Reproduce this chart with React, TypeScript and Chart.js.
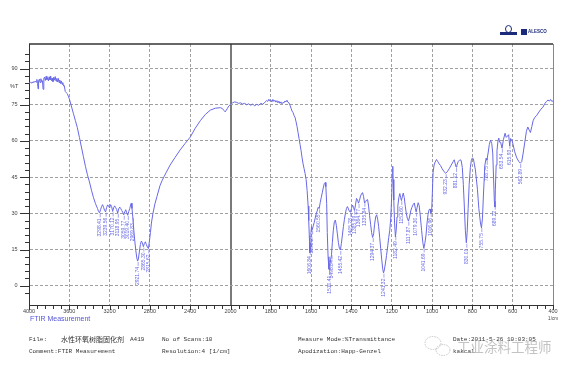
import React, { useEffect, useRef } from 'react';
import { Chart, registerables } from 'chart.js';

Chart.register(...registerables);

// ---- data (wavenumber in cm-1, descending) ----
const wavenumbers: number[] = [
  4000, 3985, 3970, 3960, 3950, 3940, 3930, 3922, 3915, 3910, 3905, 3897, 3890, 3882, 3875, 3867, 3860, 3853, 3846, 3838,
  3830, 3822, 3815, 3807, 3800, 3792, 3785, 3777, 3770, 3762, 3755, 3747, 3740, 3732, 3725, 3717, 3710, 3702, 3695, 3687,
  3680, 3672, 3665, 3657, 3650, 3640, 3630, 3620, 3610, 3600, 3580, 3560, 3540, 3520, 3500, 3480, 3460, 3440, 3420, 3400,
  3380, 3360, 3340, 3320, 3310, 3300, 3290, 3280, 3270, 3260, 3250, 3240, 3230, 3220, 3210, 3200, 3190, 3180, 3170, 3160,
  3150, 3140, 3130, 3120, 3110, 3100, 3090, 3080, 3070, 3060, 3050, 3040, 3030, 3020, 3010, 3000, 2990, 2985, 2978, 2970,
  2960, 2950, 2940, 2930, 2922, 2915, 2905, 2895, 2885, 2875, 2865, 2855, 2845, 2835, 2825, 2815, 2805, 2795, 2785, 2770,
  2750, 2730, 2700, 2680, 2660, 2640, 2600, 2550, 2500, 2450, 2400, 2350, 2300, 2250, 2200, 2150, 2100, 2080, 2065, 2055,
  2045, 2030, 2015, 2000, 1990, 1980, 1970, 1960, 1950, 1940, 1930, 1920, 1910, 1900, 1890, 1880, 1870, 1860, 1850, 1840,
  1830, 1820, 1815, 1810, 1805, 1800, 1795, 1790, 1785, 1780, 1775, 1770, 1765, 1760, 1755, 1750, 1745, 1740, 1735, 1730,
  1725, 1720, 1715, 1710, 1705, 1700, 1695, 1690, 1685, 1680, 1675, 1670, 1665, 1660, 1655, 1650, 1645, 1640, 1635, 1630,
  1625, 1620, 1615, 1612, 1608, 1606.5, 1604, 1601, 1598, 1595, 1590, 1585, 1580, 1575, 1570, 1565, 1560, 1555, 1550, 1545,
  1540, 1535, 1530, 1527, 1523, 1520, 1516, 1512, 1510, 1507, 1503, 1499, 1495, 1490, 1485, 1480, 1475, 1470, 1465, 1460,
  1455, 1450, 1445, 1440, 1435, 1430, 1425, 1420, 1415, 1410, 1405, 1400, 1395, 1390, 1385, 1380, 1375, 1370, 1365, 1360,
  1355, 1350, 1345, 1340, 1335, 1330, 1325, 1320, 1315, 1310, 1305, 1300, 1295, 1290, 1285, 1280, 1275, 1270, 1265, 1260,
  1255, 1250, 1245, 1241, 1237, 1232, 1226, 1220, 1215, 1210, 1205, 1200, 1197, 1195, 1193, 1190, 1186, 1182, 1178, 1174,
  1170, 1165, 1160, 1156, 1152, 1148, 1143, 1138, 1133, 1128, 1123, 1117, 1112, 1106, 1100, 1094, 1088, 1083, 1079, 1074,
  1069, 1064, 1058, 1052, 1046, 1041, 1036, 1030, 1025, 1020, 1015, 1010, 1006, 1002, 998, 995, 990, 985, 978, 972,
  965, 958, 950, 940, 932, 925, 915, 905, 895, 890, 885, 881, 877, 870, 862, 856, 850, 845, 840, 835,
  830, 826, 821, 816, 810, 805, 800, 795, 785, 775, 768, 760, 755, 750, 745, 738, 732, 728, 722, 716,
  710, 704, 699, 695, 691, 688, 686, 682, 678, 673, 669, 665, 660, 653, 646, 638, 632, 626, 620, 615,
  610, 604, 598, 590, 580, 570, 562, 555, 548, 540, 532, 525, 518, 512, 505, 498, 490, 480, 470, 460,
  450, 440, 432, 425, 418, 412, 406, 400,
];

const transmittance: number[] = [
  84.0, 84.3, 84.0, 84.6, 84.2, 84.8, 84.4, 85.5, 83.8, 81.6, 84.9, 85.6, 84.2, 85.8, 84.6, 85.0, 81.4, 85.9, 86.5, 85.1,
  86.8, 85.4, 86.2, 84.9, 86.6, 85.3, 86.9, 85.0, 86.1, 84.6, 86.4, 85.2, 86.7, 84.8, 85.9, 84.5, 86.0, 84.2, 85.3, 83.8,
  84.9, 83.5, 84.2, 82.8, 83.0, 80.5, 80.0, 79.6, 78.6, 77.5, 74.5, 71.5, 68.5, 65.5, 61.5, 57.5, 53.5, 49.5, 46.0, 43.0,
  39.6, 36.5, 34.0, 32.0, 30.8, 30.2, 31.5, 32.8, 33.6, 32.5, 31.2, 30.6, 32.4, 33.5, 33.0, 32.2, 33.6, 32.8, 30.8, 32.3,
  33.1, 32.4, 31.6, 30.1, 31.8, 32.6, 32.0, 31.2, 30.5, 29.4, 30.6, 31.5, 30.2, 29.2, 30.8, 32.0, 33.8, 34.2, 32.0, 28.5,
  23.0, 18.5, 14.5, 11.5, 10.2, 11.0, 14.0, 17.0, 18.5, 17.8, 16.2, 17.5, 18.2, 17.0, 16.0, 15.4, 18.5, 22.0, 26.0, 30.0,
  34.0, 37.0, 41.5, 43.5, 45.2, 46.8, 50.0, 53.2, 56.3, 59.0, 61.6, 65.3, 68.4, 71.0, 72.8, 73.6, 73.8, 73.4, 72.6, 72.1,
  72.5, 73.6, 74.6, 75.2, 75.8, 76.2, 76.0, 75.6, 75.8, 75.3, 75.6, 75.0, 75.4, 74.8, 75.3, 74.6, 75.2, 74.8, 75.6, 75.2,
  76.0, 76.8, 76.4, 77.3, 76.6, 77.0, 76.2, 77.2, 76.4, 76.9, 76.1, 76.7, 75.8, 76.5, 75.6, 76.2, 75.4, 76.0, 75.8, 76.6,
  76.2, 76.9, 76.0, 75.8, 74.8, 73.6, 72.4, 71.8, 70.6, 69.8, 68.0, 66.0, 63.5, 61.0, 58.5, 56.0, 53.0, 50.5, 48.5, 46.5,
  44.0, 39.5, 33.0, 27.0, 18.0, 13.8, 16.0, 22.0, 24.5, 23.2, 24.6, 26.2, 28.0, 29.8, 31.0, 32.5, 32.0, 34.5, 36.5, 38.5,
  40.5, 42.3, 42.8, 41.0, 34.0, 22.0, 12.0, 7.0, 6.5, 9.0, 11.0, 12.8, 17.8, 23.0, 26.5, 27.2, 25.0, 21.5, 18.0, 15.5,
  14.8, 17.5, 21.0, 24.5, 27.5, 30.0, 32.0, 32.8, 31.8, 30.8, 30.5, 32.0, 33.4, 32.5, 31.2, 33.5, 36.2, 35.6, 34.2, 35.4,
  37.2, 38.0, 38.6, 37.0, 34.3, 34.8, 35.5, 35.7, 33.0, 29.0, 25.5, 22.0, 20.0, 21.5, 25.5, 28.5, 29.4, 27.5, 24.5, 20.0,
  15.5, 11.0, 7.0, 5.3, 6.5, 9.0, 12.5, 16.5, 20.0, 23.0, 28.0, 38.0, 47.0, 49.5, 44.0, 35.5, 26.0, 20.2, 23.0, 28.5,
  33.0, 36.5, 38.2, 36.5, 35.3, 36.8, 38.4, 36.5, 33.0, 30.0, 28.0, 26.8, 28.5, 31.0, 32.5, 33.6, 34.3, 32.0, 30.6, 32.5,
  34.4, 33.2, 28.5, 23.0, 18.0, 15.5, 17.5, 21.0, 26.0, 29.5, 31.5, 31.8, 30.2, 31.0, 40.0, 47.0, 50.0, 51.2, 52.3, 51.5,
  50.5, 49.8, 48.5, 47.2, 46.6, 47.2, 48.5, 50.0, 51.5, 52.2, 50.5, 49.2, 50.0, 51.5, 52.2, 52.0, 49.0, 42.0, 33.0, 23.0,
  17.8, 22.0, 32.0, 42.0, 49.0, 52.0, 53.0, 52.5, 48.0, 40.0, 32.0, 26.0, 24.0, 28.0, 38.0, 50.0, 52.8, 52.0, 55.0, 58.5,
  60.3, 59.0, 55.0, 45.0, 35.0, 32.6, 40.0, 50.0, 56.0, 60.0, 61.2, 59.5, 59.5, 57.0, 60.5, 63.2, 61.5, 62.0, 62.6, 58.0,
  61.0, 60.5, 58.5, 55.5, 53.0, 51.5, 50.8, 51.5, 55.0, 59.5, 64.0, 65.8, 64.5, 63.5, 66.0, 68.6, 69.8, 70.7, 72.0, 73.2,
  74.0, 75.6, 76.4, 77.0, 76.5, 77.2, 76.4, 76.6,
];

// peak-pick annotations (cm-1)
const peakLabels: number[] = [
  3298.41, 3239.56, 3170.12, 3118.95, 3059.77, 3019.40, 2969.83, 2921.74, 2865.30, 2815.62,
  1606.84, 1595.27, 1560.55, 1510.41, 1498.84, 1455.42, 1405.28, 1385.99, 1364.77, 1335.84,
  1294.37, 1241.32, 1182.49, 1152.60, 1117.87, 1079.30, 1041.69, 1006.96,
  932.23, 881.12, 830.01, 755.75, 728.75, 689.22, 653.54, 615.93, 562.89,
];

const xMajorLabels: number[] = [4000, 3600, 3200, 2800, 2400, 2000, 1800, 1600, 1400, 1200, 1000, 800, 600, 400];
const yMajorLabels: number[] = [0, 15, 30, 45, 60, 75, 90];

const footerLeft: string[] = ['No of Scans:10', 'Resolution:4 [1/cm]'];
const footerMid: string[] = ['Measure Mode:%Transmittance', 'Apodization:Happ-Genzel'];
const footerRight: string[] = ['Date:2011-5-26 10:03:05', 'kakcal'];

// axis is compressed 2x above 2000 cm-1
const toP = (w: number) => (w >= 2000 ? 2000 + (w - 2000) / 2 : w);
const fromP = (p: number) => (p > 2000 ? 2000 + (p - 2000) * 2 : p);

const LINE = 'rgb(104,104,230)';
const MONO = '"Liberation Mono", "DejaVu Sans Mono", monospace';
const SANS = '"Liberation Sans", Arial, sans-serif';

function valueAt(w: number): number {
  for (let i = 0; i < wavenumbers.length - 1; i++) {
    const a = wavenumbers[i];
    const b = wavenumbers[i + 1];
    if (w <= a && w >= b) {
      const t = (a - w) / (a - b);
      return transmittance[i] + (transmittance[i + 1] - transmittance[i]) * t;
    }
  }
  return transmittance[transmittance.length - 1];
}

const isMult = (v: number, m: number) => Math.abs(v / m - Math.round(v / m)) < 1e-6;

const decorPlugin = {
  id: 'decor',
  afterDatasetsDraw(chart: any) {
    const { ctx, scales } = chart;
    const x = scales.x;
    const y = scales.y;
    ctx.save();
    ctx.fillStyle = LINE;
    ctx.strokeStyle = LINE;
    ctx.lineWidth = 0.6;
    ctx.font = `5px ${SANS}`;
    peakLabels.forEach((w) => {
      const px = x.getPixelForValue(toP(w));
      const py = y.getPixelForValue(valueAt(w));
      ctx.beginPath();
      ctx.moveTo(px + 0.5, py + 1);
      ctx.lineTo(px + 0.5, py + 5);
      ctx.stroke();
      ctx.save();
      ctx.translate(px, py + 6);
      ctx.rotate(-Math.PI / 2);
      ctx.textAlign = 'right';
      ctx.textBaseline = 'middle';
      ctx.fillText(w.toFixed(2), 0, 0);
      ctx.restore();
    });
    ctx.restore();
  },
  afterDraw(chart: any) {
    const { ctx, chartArea, scales } = chart;
    const x = scales.x;
    const y = scales.y;
    ctx.save();
    // tick marks
    ctx.strokeStyle = '#333';
    ctx.lineWidth = 1;
    y.ticks.forEach((t: any) => {
      const v = t.value;
      if (!isMult(v, 3)) return;
      const py = Math.round(y.getPixelForValue(v)) + 0.5;
      const len = yMajorLabels.includes(v) ? 9 : 4;
      ctx.beginPath();
      ctx.moveTo(chartArea.left - len, py);
      ctx.lineTo(chartArea.left, py);
      ctx.stroke();
    });
    x.ticks.forEach((t: any) => {
      const px = Math.round(x.getPixelForValue(t.value)) + 0.5;
      const len = xMajorLabels.includes(fromP(t.value)) ? 5 : 4;
      ctx.beginPath();
      ctx.moveTo(px, chartArea.bottom);
      ctx.lineTo(px, chartArea.bottom + len);
      ctx.stroke();
    });
    // top frame
    ctx.strokeStyle = '#333';
    ctx.lineWidth = 1.5;
    ctx.beginPath();
    ctx.moveTo(chartArea.left, chartArea.top);
    ctx.lineTo(chartArea.right, chartArea.top);
    ctx.stroke();

    // axis titles
    ctx.fillStyle = '#444';
    ctx.font = `5.5px ${SANS}`;
    ctx.textBaseline = 'middle';
    ctx.textAlign = 'left';
    ctx.fillText('%T', chartArea.left - 19, chartArea.top + 42);
    ctx.textAlign = 'center';
    ctx.font = `4.5px ${SANS}`;
    ctx.fillText('1/cm', chartArea.right, chartArea.bottom + 14);

    // footer
    ctx.textAlign = 'left';
    ctx.fillStyle = '#5555d8';
    ctx.font = `7px ${SANS}`;
    ctx.fillText('FTIR Measurement', 30, 319);

    ctx.fillStyle = '#333';
    ctx.font = `6px ${MONO}`;
    ctx.fillText('File:', 29, 339);
    ctx.font = `7px "Noto Sans CJK SC", sans-serif`;
    ctx.fillText('水性环氧树脂固化剂', 61, 339);
    ctx.font = `6px ${MONO}`;
    ctx.fillText('A419', 130, 339);
    ctx.fillText('Comment:FTIR Measurement', 29, 351);
    footerLeft.forEach((s, i) => ctx.fillText(s, 162, 339 + i * 12));
    footerMid.forEach((s, i) => ctx.fillText(s, 298, 339 + i * 12));
    footerRight.forEach((s, i) => ctx.fillText(s, 453, 339 + i * 12));

    // watermark
    ctx.strokeStyle = 'rgba(170,170,170,0.8)';
    ctx.lineWidth = 0.8;
    ctx.setLineDash([1.5, 1]);
    ctx.beginPath();
    ctx.ellipse(433, 343, 8, 6.5, 0, 0, Math.PI * 2);
    ctx.stroke();
    ctx.beginPath();
    ctx.ellipse(443, 350, 7, 5.5, 0, 0, Math.PI * 2);
    ctx.stroke();
    ctx.setLineDash([]);
    ctx.fillStyle = 'rgba(175,175,175,0.75)';
    ctx.font = `13.5px "Noto Sans CJK SC", sans-serif`;
    ctx.textBaseline = 'middle';
    ctx.fillText('工业涂料工程师', 457, 347);

    // logo
    ctx.fillStyle = '#1c2a7a';
    ctx.font = `bold 4.5px ${SANS}`;
    ctx.fillText('ALESCO', 528, 32);
    ctx.fillRect(521, 29, 6, 6);
    ctx.fillRect(500, 32, 17, 3);
    ctx.beginPath();
    ctx.ellipse(508.5, 29, 3, 3.5, 0, 0, Math.PI * 2);
    ctx.lineWidth = 1;
    ctx.strokeStyle = '#1c2a7a';
    ctx.stroke();
    ctx.restore();
  },
};

export default function App() {
  const ref = useRef<HTMLCanvasElement>(null);
  useEffect(() => {
    const data = wavenumbers.map((w, i) => ({ x: toP(w), y: transmittance[i] }));
    const chart = new Chart(ref.current as HTMLCanvasElement, {
      type: 'line',
      data: {
        datasets: [
          {
            data,
            borderColor: LINE,
            borderWidth: 1,
            pointRadius: 0,
            tension: 0,
            fill: false,
          },
        ],
      },
      options: {
        animation: false,
        responsive: false,
        maintainAspectRatio: false,
        devicePixelRatio: 1,
        layout: { padding: { left: 0, right: 17, top: 44, bottom: 49 } },
        plugins: { legend: { display: false }, tooltip: { enabled: false } },
        scales: {
          x: {
            type: 'linear',
            reverse: true,
            min: 400,
            max: 3000,
            afterFit: (s: any) => {
              s.height = 20;
            },
            ticks: {
              stepSize: 40,
              maxTicksLimit: 1000,
              autoSkip: false,
              maxRotation: 0,
              minRotation: 0,
              padding: 3,
              color: '#444',
              font: { family: SANS, size: 5.5 },
              callback: (v: any) => {
                const w = fromP(Number(v));
                return xMajorLabels.includes(w) ? String(w) : '';
              },
            },
            grid: {
              drawTicks: false,
              color: (c: any) => {
                const p = c.tick ? c.tick.value : 0;
                if (p === 3000) return 'rgba(0,0,0,0)';
                if (p === 2000) return '#7a7a7a';
                if (p === 400) return '#888';
                return xMajorLabels.includes(fromP(p)) ? '#a0a0a0' : 'rgba(0,0,0,0)';
              },
              lineWidth: (c: any) => (c.tick && c.tick.value === 2000 ? 2 : 1),
            },
            border: {
              display: true,
              color: '#333',
              width: 1,
              dash: (c: any) => {
                const p = c.tick ? c.tick.value : -1;
                return p === 2000 || p === 400 ? [] : [3, 2];
              },
            },
          },
          y: {
            type: 'linear',
            min: -8,
            max: 100.2,
            afterFit: (s: any) => {
              s.width = 29;
            },
            ticks: {
              stepSize: 3,
              maxTicksLimit: 1000,
              autoSkip: false,
              padding: 11.5,
              color: '#444',
              font: { family: SANS, size: 5.5 },
              callback: (v: any) => {
                const n = Number(v);
                return yMajorLabels.some((m) => Math.abs(m - n) < 1e-6) ? String(Math.round(n)) : '';
              },
            },
            grid: {
              drawTicks: false,
              color: (c: any) => {
                const v = c.tick ? c.tick.value : -100;
                return yMajorLabels.some((m) => Math.abs(m - v) < 1e-6) ? '#a0a0a0' : 'rgba(0,0,0,0)';
              },
            },
            border: { display: true, color: '#333', width: 1, dash: [3, 2] },
          },
        },
      },
      plugins: [decorPlugin],
    } as any);
    return () => chart.destroy();
  }, []);
  return (
    <div style={{ position: 'fixed', left: 0, top: 0, width: 570, height: 374, background: '#fff' }}>
      <canvas ref={ref} width={570} height={374} style={{ width: 570, height: 374, display: 'block' }} />
    </div>
  );
}
